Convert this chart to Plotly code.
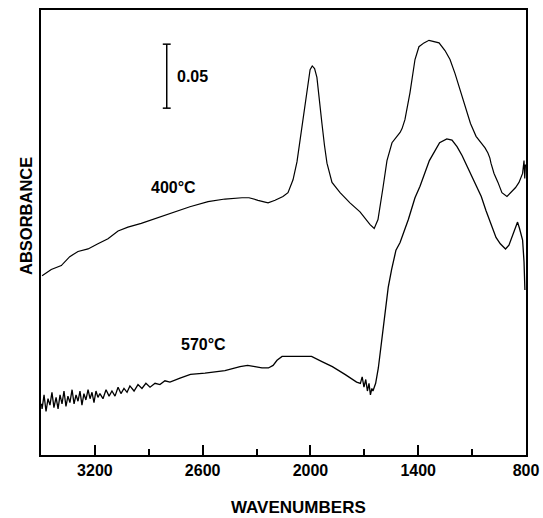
import plotly.graph_objects as go

# ---- data (wavenumber cm-1, absorbance) ----
wn_400 = [3494, 3443, 3387, 3340, 3294, 3238, 3183, 3127, 3071, 3016, 2942, 2860, 2754, 2671,
          2570, 2476, 2381, 2342, 2292, 2236, 2197, 2153, 2125, 2097, 2075, 2058, 2036, 2019,
          2002, 1990, 1977, 1964, 1950, 1936, 1922, 1908, 1880, 1835, 1780, 1724, 1668, 1645,
          1624, 1610, 1596, 1574, 1546, 1501, 1490, 1474, 1446, 1418, 1396, 1368, 1340, 1312,
          1284, 1251, 1223, 1195, 1167, 1139, 1109, 1078, 1051, 1028, 1012, 1001, 995, 978,
          956, 934, 906, 884, 858, 839, 819, 811, 807, 803]
abs_400 = [0.140, 0.145, 0.148, 0.155, 0.159, 0.161, 0.165, 0.169, 0.175, 0.178, 0.181, 0.185,
           0.190, 0.194, 0.198, 0.200, 0.201, 0.201, 0.199, 0.197, 0.199, 0.202, 0.205, 0.215,
           0.229, 0.246, 0.268, 0.285, 0.301, 0.304, 0.302, 0.295, 0.279, 0.259, 0.242, 0.228,
           0.213, 0.205, 0.197, 0.190, 0.180, 0.177, 0.184, 0.195, 0.209, 0.230, 0.244, 0.252,
           0.255, 0.262, 0.283, 0.309, 0.319, 0.322, 0.324, 0.323, 0.322, 0.316, 0.309, 0.298,
           0.285, 0.272, 0.259, 0.249, 0.244, 0.240, 0.236, 0.232, 0.228, 0.220, 0.213, 0.205,
           0.202, 0.205, 0.209, 0.213, 0.220, 0.230, 0.216, 0.227]

wn_570 = [3497, 3494, 3483, 3472, 3461, 3450, 3439, 3428, 3416, 3405, 3394, 3383, 3372, 3361,
          3350, 3339, 3327, 3316, 3305, 3294, 3283, 3272, 3261, 3250, 3238, 3227, 3216, 3205,
          3194, 3183, 3172, 3155, 3138, 3121, 3105, 3088, 3071, 3055, 3038, 3021, 3005, 2982,
          2960, 2938, 2916, 2893, 2865, 2838, 2810, 2782, 2726, 2668, 2587, 2476, 2392, 2350,
          2309, 2270, 2234, 2208, 2186, 2158, 2128, 2069, 1994, 1936, 1878, 1808, 1743, 1722,
          1712, 1702, 1692, 1683, 1674, 1666, 1658, 1652, 1637, 1622, 1603, 1589, 1567, 1548,
          1524, 1501, 1455, 1418, 1390, 1338, 1281, 1241, 1212, 1184, 1156, 1126, 1090, 1049,
          1023, 991, 967, 943, 914, 895, 875, 861, 847, 836, 828, 819, 811, 806]
abs_570 = [0.040, 0.036, 0.047, 0.034, 0.044, 0.039, 0.049, 0.037, 0.045, 0.036, 0.047, 0.040,
           0.050, 0.038, 0.046, 0.041, 0.051, 0.040, 0.047, 0.042, 0.050, 0.039, 0.048, 0.043,
           0.051, 0.044, 0.049, 0.041, 0.050, 0.045, 0.048, 0.044, 0.051, 0.046, 0.050, 0.046,
           0.053, 0.048, 0.052, 0.049, 0.054, 0.050, 0.055, 0.052, 0.056, 0.053, 0.056, 0.055,
           0.058, 0.057, 0.060, 0.063, 0.064, 0.066, 0.069, 0.070, 0.069, 0.068, 0.068, 0.070,
           0.074, 0.077, 0.077, 0.077, 0.077, 0.073, 0.069, 0.063, 0.057, 0.056, 0.061, 0.053,
           0.059, 0.050, 0.056, 0.047, 0.052, 0.050, 0.056, 0.068, 0.090, 0.108, 0.131, 0.145,
           0.160, 0.166, 0.184, 0.201, 0.210, 0.230, 0.244, 0.247, 0.246, 0.241, 0.234, 0.225,
           0.214, 0.202, 0.191, 0.178, 0.170, 0.165, 0.161, 0.164, 0.171, 0.176, 0.182, 0.177,
           0.173, 0.168, 0.151, 0.129]

x_tick_vals = [3200, 2600, 2000, 1400, 800]
x_tick_text = ["3200", "2600", "2000", "1400", "800"]
x_range = [3500, 800]
y_range = [0.0, 0.3477]

scale_bar_wn = 2800
scale_bar_top = 0.321
scale_bar_len = 0.05
scale_bar_label = "0.05"

curve_labels = ["400°C", "570°C"]
curve_label_wn = [2760, 2595]
curve_label_abs = [0.209, 0.086]

FONT = "Liberation Sans, Arial, Helvetica, sans-serif"

fig = go.Figure()
fig.add_trace(go.Scatter(x=wn_400, y=abs_400, mode="lines",
                         line=dict(color="black", width=1.2), hoverinfo="skip"))
fig.add_trace(go.Scatter(x=wn_570, y=abs_570, mode="lines",
                         line=dict(color="black", width=1.3), hoverinfo="skip"))

# scale bar
fig.add_shape(type="line", x0=scale_bar_wn, x1=scale_bar_wn,
              y0=scale_bar_top - scale_bar_len, y1=scale_bar_top,
              line=dict(color="black", width=1.5))
for yy in (scale_bar_top - scale_bar_len, scale_bar_top):
    fig.add_shape(type="line", x0=scale_bar_wn + 22, x1=scale_bar_wn - 22, y0=yy, y1=yy,
                  line=dict(color="black", width=1.5))
fig.add_annotation(x=scale_bar_wn - 45, y=scale_bar_top - scale_bar_len / 2,
                   text=scale_bar_label, showarrow=False, xanchor="left",
                   font=dict(family=FONT, size=16, color="black", weight="bold"))

for t, xx, yy in zip(curve_labels, curve_label_wn, curve_label_abs):
    fig.add_annotation(x=xx, y=yy, text=t, showarrow=False,
                       font=dict(family=FONT, size=16, color="black", weight="bold"))

# axis titles
fig.add_annotation(xref="paper", yref="paper", x=0.53, y=-0.119,
                   text="WAVENUMBERS", showarrow=False, yanchor="middle",
                   font=dict(family=FONT, size=17, color="black", weight="bold"))
fig.add_annotation(xref="paper", yref="paper", x=-0.031, y=0.537,
                   text="ABSORBANCE", showarrow=False, textangle=-90,
                   xanchor="center", yanchor="middle",
                   font=dict(family=FONT, size=16.5, color="black", weight="bold"))

fig.update_layout(
    width=543, height=518,
    margin=dict(l=41, r=17, t=10, b=63, autoexpand=False),
    paper_bgcolor="white", plot_bgcolor="white",
    showlegend=False,
    xaxis=dict(range=x_range, tickmode="array", tickvals=x_tick_vals, ticktext=x_tick_text,
               ticks="inside", ticklen=10, tickwidth=1.5, tickcolor="black",
               minor=dict(ticks="inside", ticklen=6, tickwidth=1.5, tickcolor="black",
                          tickmode="linear", tick0=800, dtick=300),
               showline=True, linecolor="black", linewidth=2, mirror=True,
               showgrid=False, zeroline=False, automargin=False,
               tickfont=dict(family=FONT, size=16, color="black", weight="bold")),
    yaxis=dict(range=y_range, showticklabels=False, ticks="",
               showline=True, linecolor="black", linewidth=2, mirror=True,
               showgrid=False, zeroline=False, automargin=False),
)

fig.write_html("out.html", config={"displayModeBar": False},
               post_script="document.body.style.margin='0';document.body.style.padding='0';"
                           "document.body.style.overflow='hidden';")
